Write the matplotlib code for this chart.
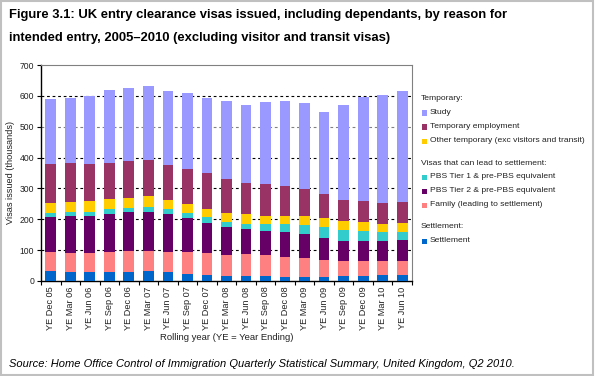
import matplotlib
matplotlib.use("Agg")
import matplotlib.pyplot as plt
from matplotlib.patches import Rectangle
import numpy as np

plt.rcParams['font.family'] = ['Liberation Sans', 'DejaVu Sans']

categories = ["YE Dec 05", "YE Mar 06", "YE Jun 06", "YE Sep 06", "YE Dec 06", "YE Mar 07",
              "YE Jun 07", "YE Sep 07", "YE Dec 07", "YE Mar 08", "YE Jun 08", "YE Sep 08",
              "YE Dec 08", "YE Mar 09", "YE Jun 09", "YE Sep 09", "YE Dec 09", "YE Mar 10",
              "YE Jun 10"]

# cumulative tops, converted into segment values
settlement = [32, 29, 29, 29, 29, 32, 29, 23, 21, 17, 16, 16, 13, 13, 13, 16, 16, 18, 18]
family_top = [95, 92, 92, 94, 96, 98, 95, 94, 90, 85, 86, 83, 78, 73, 68, 65, 65, 65, 66]
tier2_top = [208, 211, 211, 217, 222, 225, 216, 205, 189, 176, 168, 161, 159, 151, 140, 131, 130, 130, 134]
tier1_top = [219, 225, 225, 232, 238, 241, 232, 219, 206, 191, 186, 184, 185, 183, 175, 165, 161, 160, 160]
other_top = [252, 256, 258, 265, 270, 275, 262, 249, 234, 221, 217, 211, 211, 211, 204, 194, 191, 186, 189]
tempemp_top = [379, 381, 379, 384, 389, 393, 376, 363, 349, 330, 319, 314, 308, 298, 282, 262, 258, 254, 257]
study_top = [590, 594, 600, 619, 627, 631, 617, 608, 594, 583, 572, 580, 584, 577, 549, 571, 597, 604, 617]

tops = [settlement, family_top, tier2_top, tier1_top, other_top, tempemp_top, study_top]
names = ["Settlement", "Family (leading to settlement)", "PBS Tier 2 & pre-PBS equivalent",
         "PBS Tier 1 & pre-PBS equivalent", "Other temporary (exc visitors and transit)",
         "Temporary employment", "Study"]
colors = ["#0066CC", "#FF8080", "#660066", "#33CCCC", "#FFCC00", "#993366", "#9999FF"]

tops_arr = np.array(tops, dtype=float)
segments = np.diff(np.vstack([np.zeros(len(categories)), tops_arr]), axis=0)

fig = plt.figure(figsize=(5.95, 3.76), dpi=100)
fig.patch.set_facecolor("white")
fig.patches.append(Rectangle((0.002, 0.003), 0.995, 0.994, transform=fig.transFigure,
                             fill=False, edgecolor="#C0C0C0", linewidth=1.5))

ax = fig.add_axes([0.0689, 0.2527, 0.6235, 0.5744])
x = np.arange(len(categories))
bottom = np.zeros(len(categories))
for seg, name, col in zip(segments, names, colors):
    ax.bar(x, seg, bottom=bottom, width=0.55, color=col, label=name, zorder=3)
    bottom += seg

ax.set_xlim(-0.5, len(categories) - 0.5)
ax.set_ylim(0, 700)
ax.set_yticks(range(0, 701, 100))
ax.set_yticklabels([str(v) for v in range(0, 701, 100)], fontsize=6.2, color="#222222")
ax.set_xticks(x)
ax.set_xticklabels(categories, rotation=90, fontsize=6.6, color="#222222")
ax.tick_params(axis='x', length=0, pad=4)
ax.tick_params(axis='y', length=3, width=0.8, direction='out', pad=2)
ax.set_xticks(np.arange(-0.5, len(categories), 1), minor=True)
ax.tick_params(axis='x', which='minor', length=3, width=0.8, direction='out')

for v in range(100, 700, 100):
    ax.axhline(v, color="#808080" if v == 500 else "black", linestyle=(0, (2.5, 2.5)),
               linewidth=0.8, zorder=1)

for s in ["top", "right"]:
    ax.spines[s].set_color("#808080")
    ax.spines[s].set_linewidth(0.8)
for s in ["left", "bottom"]:
    ax.spines[s].set_color("black")
    ax.spines[s].set_linewidth(1.0)

ax.set_ylabel("Visas issued (thousands)", fontsize=6.6, color="#222222", labelpad=3)
ax.set_xlabel("Rolling year (YE = Year Ending)", fontsize=6.8, color="#222222", labelpad=2)

fig.text(0.015, 0.952, "Figure 3.1: UK entry clearance visas issued, including dependants, by reason for",
         fontsize=9.4, fontweight="bold", va="baseline")
fig.text(0.015, 0.892, "intended entry, 2005\u20132010 (excluding visitor and transit visas)",
         fontsize=9.4, fontweight="bold", va="baseline")
fig.text(0.015, 0.025, "Source: Home Office Control of Immigration Quarterly Statistical Summary, United Kingdom, Q2 2010.",
         fontsize=8, style="italic", va="baseline")

# custom legend
legend_groups = [
    ("Temporary:", [6, 5, 4]),
    ("Visas that can lead to settlement:", [3, 2, 1]),
    ("Settlement:", [0]),
]
W, H = 595.0, 376.0
ypos = 99.0
for header, idxs in legend_groups:
    fig.text(421 / W, 1 - ypos / H, header, fontsize=6.1, va="center", color="#222222")
    ypos += 14
    for i in idxs:
        fig.patches.append(Rectangle((422 / W, 1 - (ypos + 2.5) / H), 5 / W, 5 / H,
                                     transform=fig.transFigure, facecolor=colors[i],
                                     edgecolor="none"))
        fig.text(430 / W, 1 - ypos / H, names[i], fontsize=6.1, va="center", color="#222222")
        ypos += 14
    ypos += 8

fig.savefig("out.png", dpi=100)
